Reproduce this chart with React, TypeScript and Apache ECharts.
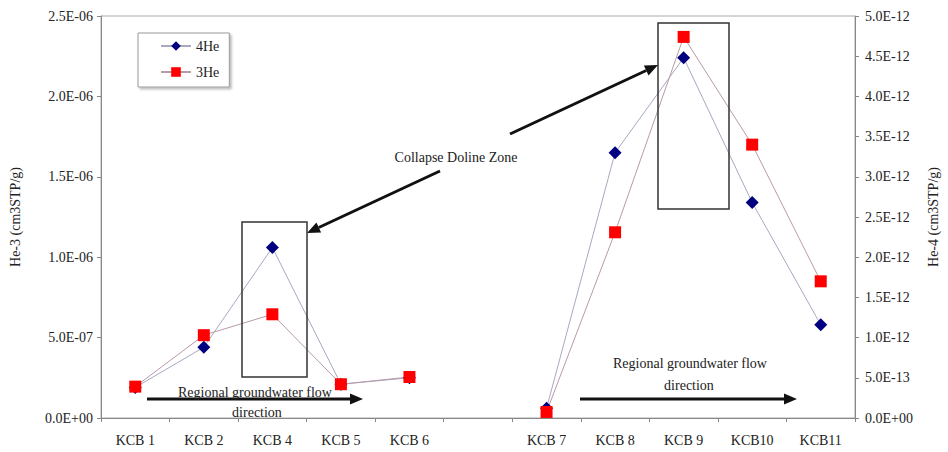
import React, { useEffect, useRef } from "react";
import * as echarts from "echarts";

const categories = ["KCB 1", "KCB 2", "KCB 4", "KCB 5", "KCB 6", "", "KCB 7", "KCB 8", "KCB 9", "KCB10", "KCB11"];
const he4Values = [1.9e-7, 4.4e-7, 1.06e-6, 2.1e-7, 2.5e-7, null, 6e-8, 1.65e-6, 2.24e-6, 1.34e-6, 5.8e-7];
const he3Values = [3.9e-13, 1.03e-12, 1.29e-12, 4.2e-13, 5.1e-13, null, 7.5e-14, 2.31e-12, 4.74e-12, 3.4e-12, 1.7e-12];

const FONT = '"Liberation Serif", "Times New Roman", serif';

function sci(v: number): string {
  if (v === 0) return "0.0E+00";
  const [m, e] = v.toExponential(1).split("e");
  const n = parseInt(e, 10);
  return m + "E" + (n < 0 ? "-" : "+") + String(Math.abs(n)).padStart(2, "0");
}

function arrow(x1: number, y1: number, x2: number, y2: number): any[] {
  const a = Math.atan2(y2 - y1, x2 - x1);
  const L = 13, W = 5.5;
  const c = Math.cos(a), s = Math.sin(a);
  const bx = x2 - L * c, by = y2 - L * s;
  return [
    { type: "line", shape: { x1, y1, x2: bx, y2: by }, style: { stroke: "#111", lineWidth: 3 }, z: 50 },
    {
      type: "polygon",
      shape: { points: [[x2, y2], [bx - W * s, by + W * c], [bx + W * s, by - W * c]] },
      style: { fill: "#111" },
      z: 50,
    },
  ];
}

function txt(text: string, x: number, y: number): any {
  return {
    type: "text",
    z: 60,
    style: { text, x, y, align: "center", verticalAlign: "middle", font: `14px ${FONT}`, fill: "#222" },
  };
}

export default function App() {
  const ref = useRef<HTMLDivElement>(null);
  useEffect(() => {
    if (!ref.current) return;
    const chart = echarts.init(ref.current, null, { renderer: "svg" });
    chart.setOption({
      animation: false,
      backgroundColor: "#fff",
      textStyle: { fontFamily: FONT },
      grid: { left: 96, right: 76, top: 16, bottom: 34, show: true, borderColor: "#aaa", borderWidth: 1 },
      legend: {
        orient: "vertical",
        left: 138,
        top: 33,
        padding: [6, 10, 8, 22],
        itemGap: 12,
        itemWidth: 30,
        itemHeight: 12,
        borderColor: "#999",
        borderWidth: 1,
        backgroundColor: "#fff",
        shadowColor: "rgba(0,0,0,0.25)",
        shadowBlur: 2,
        shadowOffsetX: 2,
        shadowOffsetY: 2,
        textStyle: { fontFamily: FONT, fontSize: 14, color: "#222" },
        data: ["4He", "3He"],
      },
      xAxis: {
        type: "category",
        data: categories,
        boundaryGap: true,
        axisLine: { lineStyle: { color: "#888" } },
        axisTick: { show: true, length: 4, lineStyle: { color: "#888" } },
        axisLabel: { color: "#222", fontFamily: FONT, fontSize: 14, margin: 15, interval: 0 },
      },
      yAxis: [
        {
          type: "value",
          min: 0,
          max: 2.5e-6,
          interval: 5e-7,
          name: "He-3 (cm3STP/g)",
          nameLocation: "middle",
          nameRotate: 90,
          nameGap: 79,
          nameTextStyle: { fontFamily: FONT, fontSize: 14, color: "#222" },
          splitLine: { show: false },
          axisLine: { show: true, lineStyle: { color: "#888" } },
          axisTick: { show: true, length: 4, lineStyle: { color: "#888" } },
          axisLabel: { color: "#222", fontFamily: FONT, fontSize: 14, margin: 8, formatter: (v: number) => sci(v) },
        },
        {
          type: "value",
          position: "right",
          min: 0,
          max: 5e-12,
          interval: 5e-13,
          name: "He-4 (cm3STP/g)",
          nameLocation: "middle",
          nameRotate: 90,
          nameGap: 71,
          nameTextStyle: { fontFamily: FONT, fontSize: 14, color: "#222" },
          splitLine: { show: false },
          axisLine: { show: true, lineStyle: { color: "#888" } },
          axisTick: { show: true, length: 4, lineStyle: { color: "#888" } },
          axisLabel: { color: "#222", fontFamily: FONT, fontSize: 14, margin: 10, formatter: (v: number) => sci(v) },
        },
      ],
      series: [
        {
          name: "4He",
          type: "line",
          yAxisIndex: 0,
          data: he4Values,
          connectNulls: false,
          symbol: "diamond",
          symbolSize: 13,
          itemStyle: { color: "#000080" },
          lineStyle: { color: "#a8a8c0", width: 1 },
        },
        {
          name: "3He",
          type: "line",
          yAxisIndex: 1,
          data: he3Values,
          connectNulls: false,
          symbol: "rect",
          symbolSize: 12,
          itemStyle: { color: "#ff0000" },
          lineStyle: { color: "#b89aa8", width: 1 },
        },
      ],
      graphic: [
        { type: "rect", z: 40, shape: { x: 242, y: 222, width: 65, height: 155 }, style: { fill: "none", stroke: "#333", lineWidth: 1.5 } },
        { type: "rect", z: 40, shape: { x: 658, y: 23, width: 71, height: 186 }, style: { fill: "none", stroke: "#333", lineWidth: 1.5 } },
        txt("Collapse Doline Zone", 456, 157),
        ...arrow(440, 171, 307, 233),
        ...arrow(510, 134, 658, 65),
        txt("Regional groundwater flow", 255, 392),
        txt("direction", 257, 412),
        ...arrow(147, 399, 363, 399),
        txt("Regional groundwater flow", 690, 363),
        txt("direction", 689, 385),
        ...arrow(580, 399, 797, 399),
      ],
    });
    return () => chart.dispose();
  }, []);
  return <div ref={ref} style={{ position: "fixed", left: 0, top: 0, width: 948, height: 452, background: "#fff" }} />;
}
